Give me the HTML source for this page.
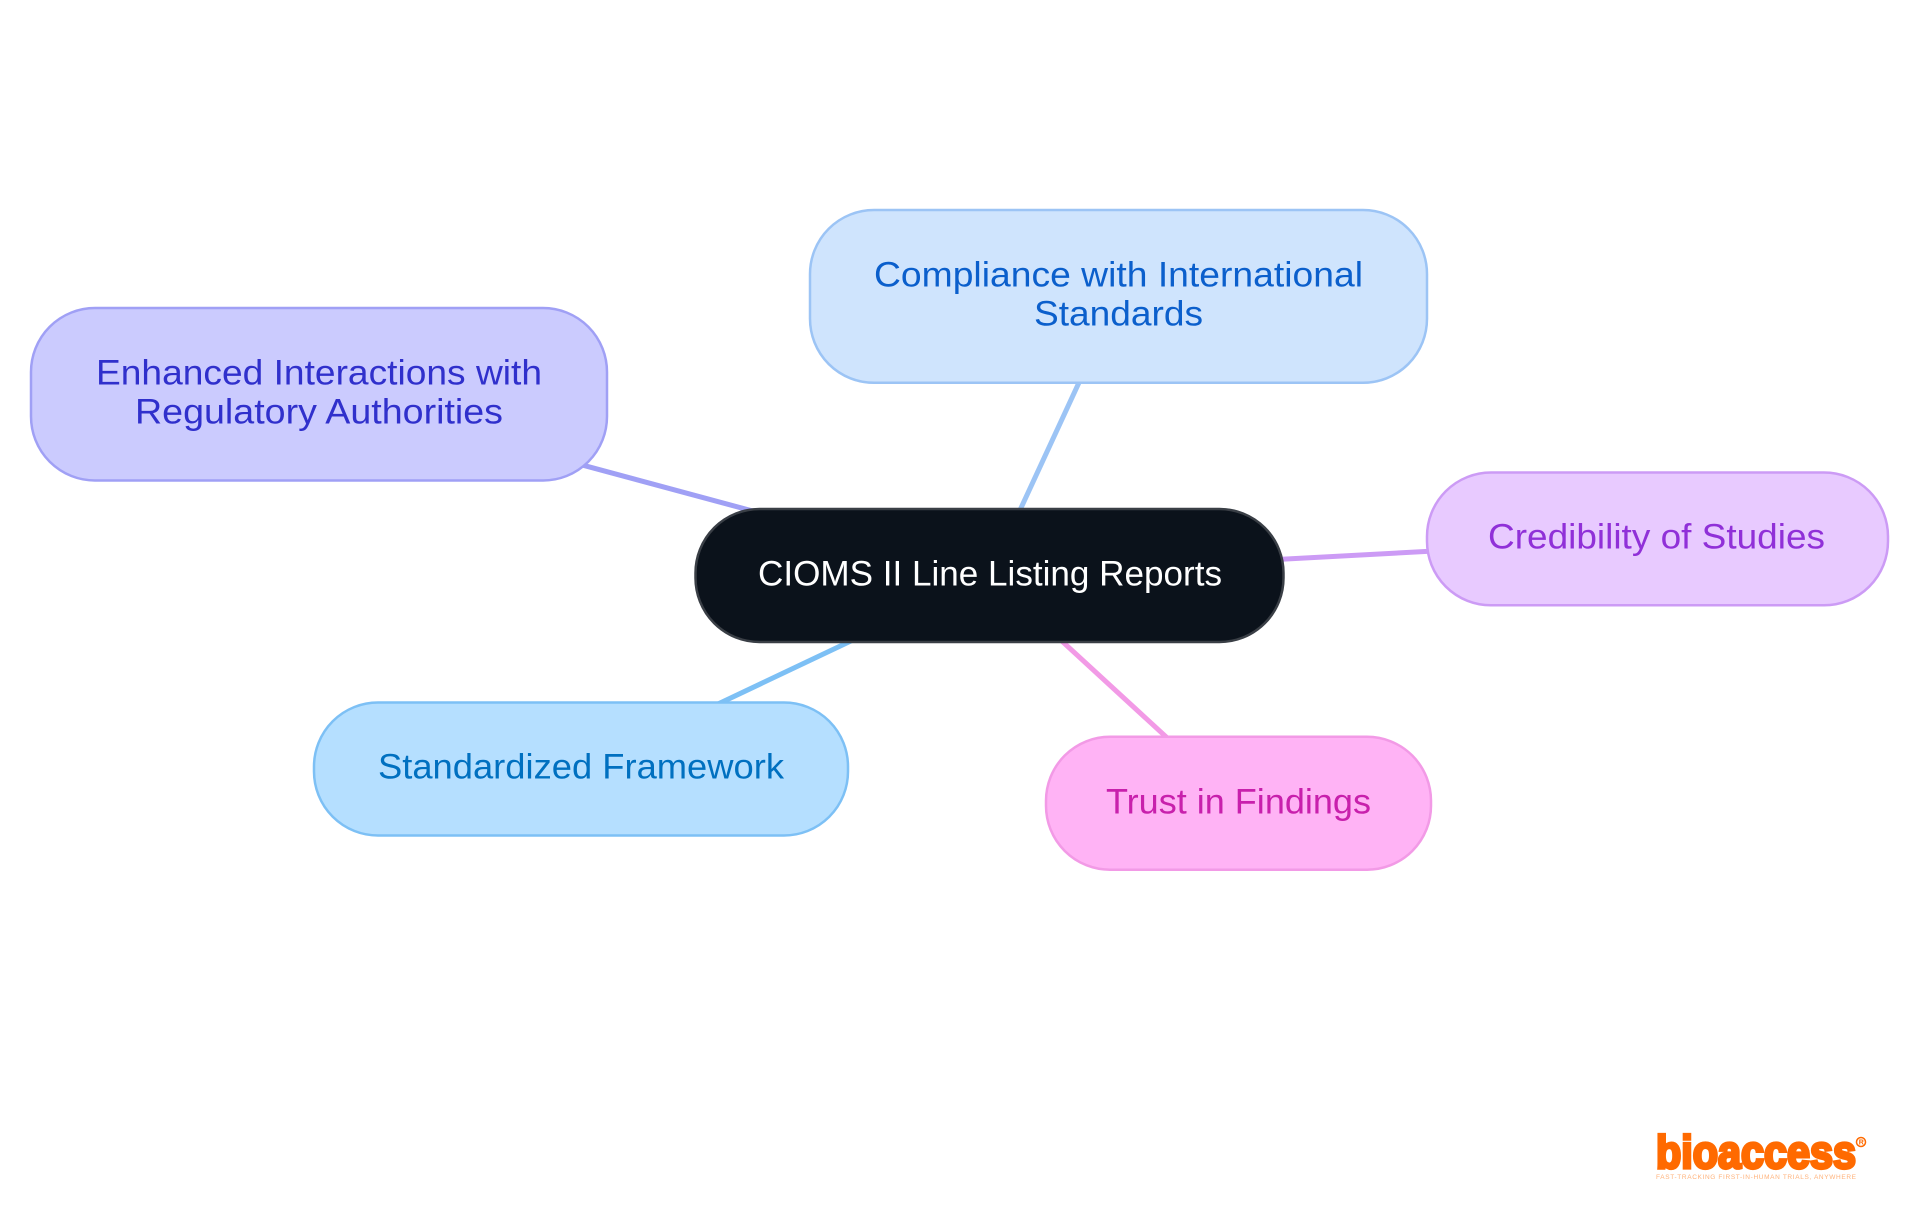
<!DOCTYPE html>
<html><head><meta charset="utf-8"><style>
html,body{margin:0;padding:0;background:#fff}
svg{display:block}
text{font-family:"Liberation Sans",sans-serif;font-size:35.5px;text-anchor:start}
</style></head><body>
<svg width="1920" height="1215" viewBox="0 0 1920 1215" xmlns="http://www.w3.org/2000/svg">
<rect width="1920" height="1215" fill="#fff"/>
<g stroke-width="5" fill="none">
<line x1="990" y1="575" x2="319" y2="394" stroke="#a0a0f5"/>
<line x1="990" y1="575" x2="1119" y2="296" stroke="#9cc4f5"/>
<line x1="990" y1="575" x2="1657" y2="539" stroke="#cc9bf5"/>
<line x1="990" y1="575" x2="581" y2="769" stroke="#7dc0f5"/>
<line x1="990" y1="575" x2="1238" y2="803" stroke="#f29ae6"/>
</g>
<g stroke-width="2.5">
<rect x="31" y="308" width="576" height="172.5" rx="64" fill="#cbcbfe" stroke="#a0a0f5"/>
<rect x="810" y="210" width="617" height="172.8" rx="64" fill="#cfe4fd" stroke="#9cc4f5"/>
<rect x="1427" y="472.5" width="461" height="132.8" rx="64" fill="#e8caff" stroke="#cc9bf5"/>
<rect x="314" y="702.5" width="534" height="133" rx="64" fill="#b5dfff" stroke="#7dc0f5"/>
<rect x="1046" y="736.8" width="385" height="132.9" rx="64" fill="#ffb3f5" stroke="#f29ae6"/>
<rect x="695.5" y="509" width="588" height="133" rx="64" fill="#0b121b" stroke="#3a3f46"/>
</g>
<text x="758" y="585.5" fill="#ffffff" textLength="464" lengthAdjust="spacingAndGlyphs">CIOMS II Line Listing Reports</text>
<text x="96" y="384.5" fill="#3030cc" textLength="446" lengthAdjust="spacingAndGlyphs">Enhanced Interactions with</text>
<text x="135" y="423.5" fill="#3030cc" textLength="368" lengthAdjust="spacingAndGlyphs">Regulatory Authorities</text>
<text x="874" y="286.5" fill="#0b5fcc" textLength="489" lengthAdjust="spacingAndGlyphs">Compliance with International</text>
<text x="1034" y="325.5" fill="#0b5fcc" textLength="169" lengthAdjust="spacingAndGlyphs">Standards</text>
<text x="1488" y="548.5" fill="#9030d8" textLength="337" lengthAdjust="spacingAndGlyphs">Credibility of Studies</text>
<text x="378" y="778.5" fill="#0070c0" textLength="406" lengthAdjust="spacingAndGlyphs">Standardized Framework</text>
<text x="1106" y="813.5" fill="#c820ac" textLength="265" lengthAdjust="spacingAndGlyphs">Trust in Findings</text>
<text x="1656" y="1168" fill="#ff6a00" stroke="#ff6a00" stroke-width="3.2" style="font-size:46px;font-weight:bold" textLength="200" lengthAdjust="spacingAndGlyphs">bioaccess</text>
<text x="1656" y="1179" fill="#ffb27a" style="font-size:6.5px" textLength="200" lengthAdjust="spacing">FAST-TRACKING FIRST-IN-HUMAN TRIALS, ANYWHERE</text>
<circle cx="1861" cy="1142" r="4.5" fill="none" stroke="#ff6a00" stroke-width="1.5"/>
<text x="1858.8" y="1144.5" fill="#ff6a00" style="font-size:7px;font-weight:bold">R</text>
</svg>
</body></html>
